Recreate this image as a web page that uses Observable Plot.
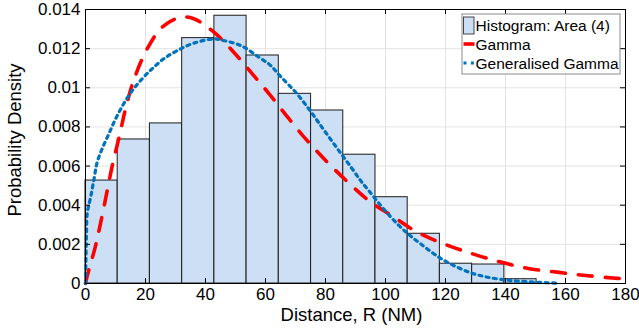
<!DOCTYPE html>
<html>
<head>
<meta charset="utf-8">
<script src="https://cdn.jsdelivr.net/npm/d3@7"></script>
<script src="https://cdn.jsdelivr.net/npm/@observablehq/plot@0.6"></script>
<style>
  html, body { margin: 0; padding: 0; background: #fff; }
  #chart { width: 639px; height: 335px; }
</style>
</head>
<body>
<div id="chart"></div>
<script>
// ---------- data ----------
const binEdges = [0, 10.74, 21.48, 32.22, 42.96, 53.7, 64.44, 75.18, 85.92, 96.66, 107.4, 118.14, 128.88, 139.62, 150.36];
const binDensity = [0.00526, 0.00736, 0.00818, 0.01254, 0.01368, 0.01165, 0.00969, 0.00884, 0.00658, 0.00441, 0.00254, 0.00101, 0.00097, 0.00022];

const gammaX = [0, 0.6, 3.3, 5.6, 8.9, 11.4, 13.3, 16.1, 20.6, 25.6, 31.7, 36.1, 42.8, 49.4, 55.6, 61.7, 67.8, 73.9, 80.6, 87.2, 94.4, 102.8, 110.6, 119.4, 128.9, 137.8, 147.2, 157.2, 166.7, 176.7, 180];
const gammaY = [0, 0.0004, 0.0019, 0.0035, 0.0060, 0.0076, 0.0089, 0.0104, 0.0120, 0.0131, 0.0136, 0.01353, 0.01284, 0.01182, 0.01071, 0.0096, 0.00842, 0.0073, 0.0062, 0.00522, 0.00424, 0.00339, 0.00262, 0.00203, 0.00152, 0.00112, 0.00078, 0.00058, 0.00041, 0.00027, 0.00024];

const genGammaX = [0, 0.15, 0.3, 0.6, 1.7, 2.8, 3.9, 5.6, 7.8, 10, 12.8, 15.6, 18.9, 22.2, 26.1, 30.6, 36.1, 42.8, 45, 51.7, 57.8, 61.7, 65, 70, 74.4, 77.2, 80, 84.4, 88.9, 91.7, 94.4, 98.9, 103.9, 107.8, 111.7, 117.2, 121.7, 127.8, 132.8, 139.4, 147.2, 157];
const genGammaY = [0, 0.0012, 0.0024, 0.0036, 0.0044, 0.0053, 0.0062, 0.0069, 0.00765, 0.0084, 0.0092, 0.00986, 0.01046, 0.01097, 0.01148, 0.0119, 0.01228, 0.0125, 0.01245, 0.01216, 0.01156, 0.01114, 0.01058, 0.00978, 0.00893, 0.00833, 0.00773, 0.0068, 0.00586, 0.00526, 0.00475, 0.0039, 0.00305, 0.0025, 0.00203, 0.0014, 0.0010, 0.00058, 0.00036, 0.00019, 0.00009, 0.00002];

const xTicks = [0, 20, 40, 60, 80, 100, 120, 140, 160, 180];
const yTicks = [0, 0.002, 0.004, 0.006, 0.008, 0.01, 0.012, 0.014];
const yTickLabels = ["0", "0.002", "0.004", "0.006", "0.008", "0.01", "0.012", "0.014"];
const xLabel = "Distance, R (NM)";
const yLabel = "Probability Density";
const legendLabels = ["Histogram: Area (4)", "Gamma", "Generalised Gamma"];

// ---------- derived tables ----------
const bins = binDensity.map((d, i) => ({x1: binEdges[i], x2: binEdges[i + 1], y: d}));
const gamma = gammaX.map((x, i) => ({x, y: gammaY[i]}));
const genGamma = genGammaX.map((x, i) => ({x, y: genGammaY[i]}));

const W = 639, H = 335, mL = 85, mR = 14, mT = 9, mB = 52;
const fw = W - mL - mR, fh = H - mT - mB, tk = 5;
const font = "'Liberation Sans', Arial, Helvetica, sans-serif";
const barFill = "#cddff5";
const red = "#ff0000", blue = "#0072bd";
const dotDash = "3,4.4";

const chart = Plot.plot({
  width: W, height: H,
  marginLeft: mL, marginRight: mR, marginTop: mT, marginBottom: mB,
  style: {fontFamily: font, background: "#fff", color: "#000"},
  x: {domain: [0, 180]},
  y: {domain: [0, 0.014]},
  marks: [
    Plot.gridX(xTicks, {stroke: "#e3e3e3", strokeOpacity: 1}),
    Plot.gridY(yTicks, {stroke: "#e3e3e3", strokeOpacity: 1}),
    Plot.rectY(bins, {x1: "x1", x2: "x2", y: "y", fill: barFill, stroke: "#1a1a1a", strokeWidth: 1.1, strokeOpacity: 0.9}),
    Plot.line(gamma, {x: "x", y: "y", stroke: red, strokeWidth: 3.6, strokeDasharray: "14,13", curve: "catmull-rom"}),
    Plot.line(genGamma, {x: "x", y: "y", stroke: blue, strokeWidth: 3.2, strokeDasharray: dotDash, curve: "catmull-rom"}),
    Plot.frame({stroke: "#000", strokeWidth: 1}),
    // inward ticks on all four sides
    Plot.tickX(xTicks, {x: d => d, insetTop: fh - tk, stroke: "#000"}),
    Plot.tickX(xTicks, {x: d => d, insetBottom: fh - tk, stroke: "#000"}),
    Plot.tickY(yTicks, {y: d => d, insetRight: fw - tk, stroke: "#000"}),
    Plot.tickY(yTicks, {y: d => d, insetLeft: fw - tk, stroke: "#000"}),
    Plot.axisX(xTicks, {anchor: "bottom", tickSize: 0, tickPadding: 4, fontSize: 17, label: null, tickFormat: d => String(d)}),
    Plot.axisY(yTicks, {anchor: "left", tickSize: 0, tickPadding: 5, fontSize: 17, label: null, tickFormat: d => yTickLabels[yTicks.indexOf(d)]}),
    Plot.text([xLabel], {text: d => d, frameAnchor: "bottom", dx: -4, dy: 24, lineAnchor: "top", fontSize: 18.5, fill: "#000"})
  ]
});

const svg = d3.select(chart);
// y axis title
svg.append("text")
  .attr("transform", "translate(15,140) rotate(-90)")
  .attr("text-anchor", "middle").attr("dy", "0.35em")
  .attr("font-family", font).attr("font-size", 18.5).attr("fill", "#000")
  .text(yLabel);

// ---------- legend ----------
const lg = svg.append("g").attr("font-family", font).attr("font-size", 15.5).attr("text-anchor", "start");
const bx = 462, by = 14, bw = 158, bh = 60;
lg.append("rect").attr("x", bx).attr("y", by).attr("width", bw).attr("height", bh)
  .attr("fill", "#fff").attr("stroke", "#8a8a8a").attr("stroke-width", 1);
const rows = [26, 45, 64];
lg.append("rect").attr("x", bx + 1.5).attr("y", rows[0] - 9).attr("width", 10.5).attr("height", 17)
  .attr("fill", barFill).attr("stroke", "#444").attr("stroke-width", 1);
lg.append("line").attr("x1", bx + 1.5).attr("x2", bx + 12.5).attr("y1", rows[1] - 1).attr("y2", rows[1] - 1)
  .attr("stroke", red).attr("stroke-width", 3.6);
lg.append("line").attr("x1", bx + 1.5).attr("x2", bx + 12.5).attr("y1", rows[2] - 1).attr("y2", rows[2] - 1)
  .attr("stroke", blue).attr("stroke-width", 3.2).attr("stroke-dasharray", dotDash);
legendLabels.forEach((t, i) => {
  lg.append("text").attr("x", bx + 13.5).attr("y", rows[i]).attr("dy", "0.35em").attr("fill", "#000").text(t);
});

document.getElementById("chart").appendChild(chart);
</script>
</body>
</html>
